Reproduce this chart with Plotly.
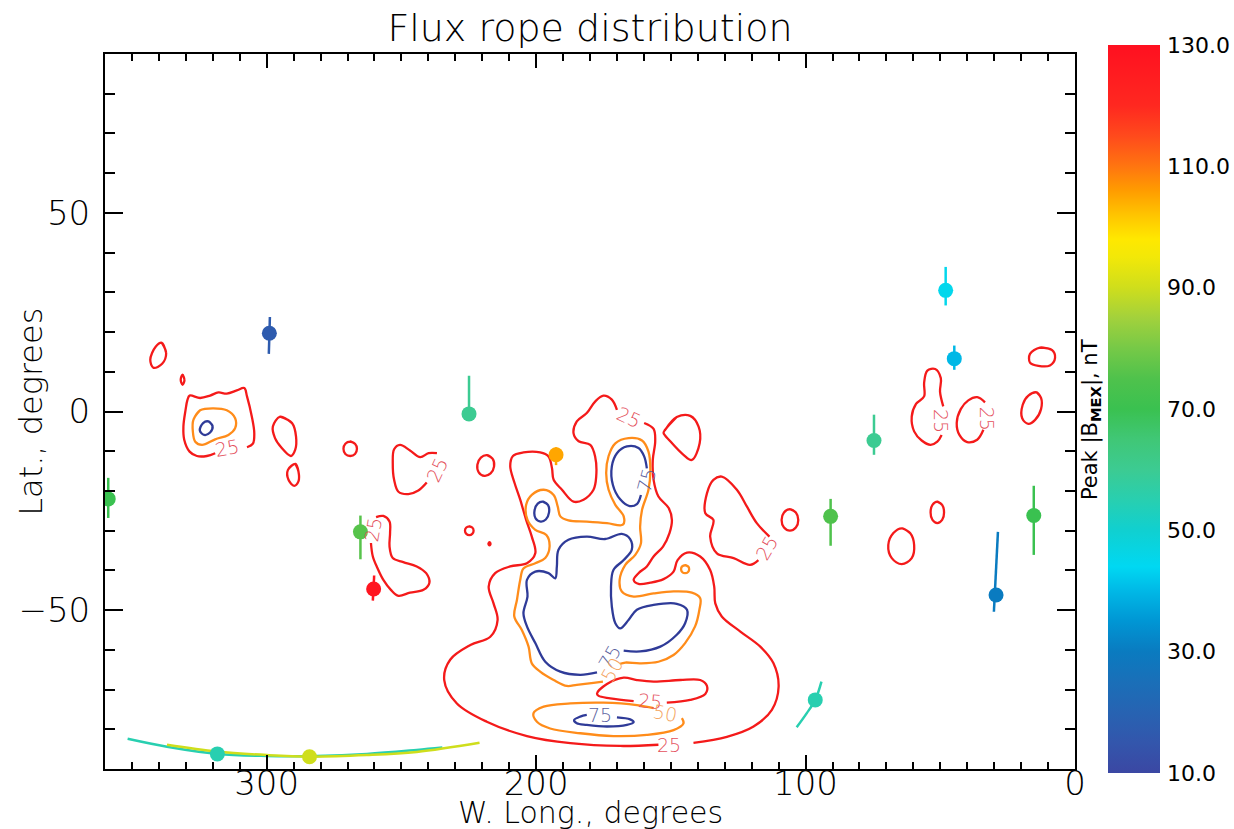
import plotly.graph_objects as go
from plotly.colors import sample_colorscale

# ---------------- flux rope events ----------------
fr_lon = [299.0, 224.9, 358.8, 265.2, 260.3, 192.6, 318.3, 284.1, 96.4, 90.7, 74.6, 48.0, 44.8, 29.3, 15.3]
fr_lat = [19.7, -0.6, -22.0, -30.3, -44.7, -10.9, -86.2, -86.9, -72.6, -26.4, -7.3, 30.5, 13.3, -46.2, -26.2]
fr_bpeak = [17, 60, 70, 76, 128, 105, 55, 90, 55, 75, 60, 45, 40, 30, 70]

# flux rope axis traces (one per event)
axis_lon = [
    [298.8, 299.2], [224.9, 224.9], [358.8, 358.8], [265.2, 265.2], [260.1, 260.6],
    [192.6, 192.6],
    [351.6, 337.0, 318.3, 299.9, 281.4, 262.8, 244.3, 234.8],
    [337.0, 318.5, 299.9, 284.1, 262.8, 244.3, 221.0],
    [103.3, 99.6, 96.4, 94.1],
    [90.7, 90.7], [74.6, 74.6], [48.0, 48.0], [44.8, 44.8], [28.6, 30.1], [15.3, 15.3],
]
axis_lat = [
    [23.8, 14.5], [9.0, -0.6], [-16.7, -26.8], [-26.2, -37.2], [-41.3, -47.6],
    [-9.0, -13.5],
    [-82.4, -84.4, -86.2, -86.7, -86.7, -86.2, -85.2, -84.6],
    [-83.9, -85.6, -86.5, -86.9, -86.5, -85.7, -83.4],
    [-79.5, -76.0, -72.6, -68.0],
    [-22.0, -33.8], [-0.8, -10.9], [36.4, 26.7], [16.6, 10.5], [-30.3, -50.4], [-18.7, -36.1],
]

# ---------------- crustal field contours (25 nT) ----------------
c25_lon = [
    [319.1, 322.2, 325.9, 328.6, 330.6, 330.9, 330.1, 329.4, 328.6, 324.7, 321.0, 317.9, 314.8, 311.1, 308.3, 307.3, 305.5, 304.6, 305.1, 307.3],
    [338.9, 337.3, 338.8, 342.0, 343.2, 341.2],
    [331.2, 330.5, 331.2, 331.9],
    [295.0, 290.6, 289.1, 289.4, 291.0, 294.4, 296.9, 297.7],
    [289.3, 288.2, 288.2, 289.8, 291.9, 292.1],
    [269.0, 267.2, 266.5, 267.2, 269.0, 270.8, 271.5, 270.8],
    [236.8, 239.9, 243.0, 246.8, 250.5, 252.7, 253.2, 252.7, 251.1, 247.4, 243.7, 240.6],
    [218.2, 216.1, 215.6, 216.9, 219.2, 221.3, 221.8, 220.5],
    [259.4, 256.7, 254.4, 254.2, 254.4, 253.2, 249.3, 244.3, 240.8, 239.6, 241.8, 246.8, 251.1, 253.9, 256.7, 258.9, 260.6, 261.3],
    [224.8, 223.7, 223.2, 223.7, 224.8, 225.9, 226.4, 225.9],
    [217.3, 216.9, 217.3, 217.7],
    [159.9, 156.4, 155.8, 156.7, 156.4, 154.6, 150.8, 149.6, 150.5, 152.9, 156.4, 158.9, 162.0, 163.8, 162.0, 157.6, 152.7, 149.0, 147.5, 144.0, 139.1, 135.4, 133.9, 133.5, 131.1, 124.2, 116.8, 111.9, 110.0, 112.5, 119.3, 129.2, 141.6],
    [154.6, 168.8, 187.3, 203.4, 218.3, 229.4, 234.1, 231.9, 224.4, 217.0, 214.3, 215.8, 217.6, 215.2, 209.6, 203.4, 200.3, 201.6, 203.7, 205.9, 208.0, 209.6, 208.6, 204.7, 198.5, 195.4, 194.1, 193.5, 190.4, 186.1, 182.4, 178.7, 177.7, 178.1, 179.9, 184.2, 186.1, 184.9, 181.2, 178.1, 175.0, 171.9, 170.0],
    [163.8, 172.5, 176.8, 177.4, 173.7, 167.5, 162.6, 156.4, 146.5, 139.1, 136.6, 137.2, 142.8, 151.5],
    [152.1, 147.8, 142.8, 139.7, 139.3, 142.2, 145.3, 150.2, 152.7],
    [117.5, 120.6, 126.7, 132.9, 135.4, 134.2, 137.2, 136.6, 134.2, 131.1, 125.5, 121.8, 118.1, 113.4],
    [105.8, 103.6, 102.7, 103.6, 105.8, 108.0, 108.9, 108.0],
    [64.3, 61.2, 59.7, 60.6, 64.3, 68.0, 69.3, 67.4],
    [51.1, 49.3, 48.6, 49.3, 51.1, 52.9, 53.6, 52.9],
    [48.9, 50.1, 49.8, 51.9, 54.8, 56.0, 56.0, 59.0, 60.6, 59.7, 56.9, 53.6, 51.1, 49.5],
    [33.4, 36.3, 39.6, 42.4, 43.9, 42.9, 40.0, 36.3, 34.0],
    [14.2, 12.6, 12.6, 14.8, 17.3, 19.6, 19.4, 17.3],
    [13.0, 8.6, 7.4, 9.3, 13.6, 16.7, 16.7],
]
c25_lat = [
    [-10.5, -11.2, -11.2, -10.1, -7.1, -3.8, 0.4, 2.9, 4.0, 3.4, 4.0, 4.8, 4.5, 5.3, 5.9, 3.8, -1.3, -5.4, -8.1, -9.0],
    [17.3, 14.7, 12.0, 11.0, 13.0, 16.3],
    [9.3, 8.0, 6.7, 8.0],
    [-1.3, -2.9, -6.3, -9.6, -11.2, -9.2, -6.7, -3.8],
    [-13.2, -15.1, -17.6, -18.7, -17.2, -14.7],
    [-7.6, -8.1, -9.4, -10.7, -11.2, -10.7, -9.4, -8.1],
    [-10.5, -10.5, -11.5, -9.8, -8.4, -9.5, -13.0, -17.2, -20.2, -20.8, -19.9, -17.9],
    [-11.0, -11.9, -13.8, -15.6, -16.2, -15.3, -13.4, -11.6],
    [-26.6, -26.3, -27.7, -30.6, -34.0, -36.9, -37.9, -39.0, -40.7, -43.1, -44.9, -45.6, -46.4, -44.9, -42.4, -39.4, -36.5, -33.1],
    [-28.9, -29.2, -30.0, -30.8, -31.1, -30.8, -30.0, -29.2],
    [-32.9, -33.3, -33.7, -33.3],
    [-2.9, -4.4, -7.5, -12.2, -17.2, -21.4, -24.3, -27.3, -30.6, -34.0, -36.5, -39.0, -40.7, -42.4, -43.4, -43.1, -42.2, -40.3, -37.4, -35.5, -36.5, -39.9, -44.1, -48.3, -51.6, -55.4, -59.2, -63.4, -69.3, -75.1, -79.3, -81.9, -83.4],
    [-83.9, -84.2, -83.5, -81.7, -78.1, -73.5, -67.6, -62.5, -58.8, -56.7, -52.5, -48.3, -44.1, -40.7, -39.0, -38.2, -35.7, -31.5, -27.3, -22.2, -18.0, -13.8, -11.2, -10.3, -10.3, -11.3, -14.3, -17.2, -19.7, -22.7, -22.2, -19.7, -16.4, -11.3, -8.4, -7.5, -5.5, -2.5, -0.4, 2.5, 4.0, 3.0, 0.4],
    [-72.9, -72.2, -71.6, -71.0, -68.6, -67.0, -67.6, -68.0, -67.6, -67.6, -69.1, -71.1, -72.6, -73.3],
    [-4.6, -1.4, -1.1, -3.8, -8.0, -12.2, -10.9, -7.5, -5.4],
    [-37.4, -38.6, -36.9, -35.7, -31.5, -27.3, -25.6, -20.6, -17.2, -16.4, -19.7, -23.9, -28.1, -31.5],
    [-24.6, -25.4, -27.3, -29.2, -30.0, -29.2, -27.3, -25.4],
    [-29.4, -30.6, -33.6, -36.9, -38.4, -36.9, -33.6, -30.6],
    [-22.7, -23.5, -25.4, -27.3, -28.1, -27.3, -25.4, -23.5],
    [1.3, 5.0, 8.4, 10.7, 10.3, 7.2, 3.8, 1.9, -1.3, -5.0, -7.3, -8.4, -7.6, -5.9],
    [2.3, 3.6, 2.8, 0.6, -2.9, -5.9, -7.7, -7.1, -4.6],
    [4.8, 3.4, 0.6, -2.1, -3.1, -1.7, 1.7, 4.0],
    [16.1, 15.5, 13.5, 11.6, 11.5, 12.3, 14.5],
]
c25_closed = [False, True, True, True, True, True, False, True, False, True, True,
              False, False, False, True, False, True, True, True, False, False, True, True]

# ---------------- 50 nT ----------------
c50_lon = [
    [327.2, 324.7, 319.8, 314.8, 311.7, 311.7, 314.2, 319.1, 324.0, 326.5, 327.4],
    [175.2, 178.7, 184.9, 188.6, 193.5, 198.5, 201.6, 202.8, 205.3, 208.1, 207.1, 205.9, 204.7, 200.3, 196.6, 195.0, 196.2, 200.3, 203.2, 203.7, 201.6, 197.2, 193.5, 192.0, 191.0, 188.0, 181.2, 173.7, 167.8, 167.5, 170.6, 173.1, 174.0, 173.1, 170.6, 165.7, 160.7, 158.3, 157.6, 158.3, 160.7, 161.4, 161.1, 163.2, 166.9, 169.0, 168.2, 163.8, 156.4, 149.0, 142.2, 139.1, 139.4, 141.0, 144.7, 149.0, 154.6, 161.4, 166.9, 168.8],
    [144.7, 143.6, 143.2, 143.6, 144.7, 145.8, 146.2, 145.8],
    [156.4, 162.6, 175.0, 187.3, 197.2, 201.0, 199.7, 194.8, 183.6, 171.3, 158.9, 149.0, 145.3, 145.9],
]
c50_lat = [
    [-2.1, 0.3, 0.8, 0.3, -1.7, -4.2, -5.9, -7.0, -8.4, -7.6, -5.0],
    [-68.0, -68.3, -68.8, -69.1, -67.6, -65.5, -63.4, -59.2, -55.0, -51.6, -47.4, -42.4, -39.5, -38.2, -36.9, -34.0, -31.1, -29.8, -27.3, -23.5, -21.0, -19.7, -21.0, -23.9, -26.4, -27.4, -27.7, -28.1, -28.5, -26.4, -23.5, -19.7, -15.5, -11.2, -8.0, -6.7, -7.3, -10.1, -14.7, -19.7, -24.8, -29.0, -33.2, -36.1, -38.6, -42.4, -45.3, -46.6, -45.8, -45.3, -45.6, -47.0, -49.9, -54.1, -58.3, -61.3, -63.0, -63.4, -63.2, -63.5],
    [-38.7, -39.0, -39.7, -40.4, -40.7, -40.4, -39.7, -39.0],
    [-74.7, -73.9, -73.3, -73.5, -74.3, -76.0, -78.1, -79.8, -81.0, -81.7, -81.4, -80.2, -78.5, -77.2],
]
c50_closed = [True, False, True, False]

# ---------------- 75 nT ----------------
c75_lon = [
    [321.6, 320.1, 321.0, 323.2, 324.8, 323.6],
    [197.5, 195.6, 195.2, 196.4, 198.3, 200.2, 200.6, 199.4],
    [161.1, 162.6, 165.3, 168.8, 171.5, 171.9, 170.0, 166.3, 162.0, 159.9, 158.9],
    [177.4, 183.6, 191.0, 196.6, 200.3, 203.4, 204.7, 203.2, 203.4, 200.3, 195.4, 192.9, 192.3, 191.7, 188.0, 181.2, 174.4, 168.2, 165.1, 164.5, 167.5, 171.3, 172.2, 171.9, 170.6, 168.8, 165.7, 162.6, 156.4, 147.8, 144.0, 144.7, 147.8, 153.9, 161.4, 167.5],
    [170.0, 165.1, 163.8, 166.3, 173.7, 181.2, 184.9, 185.9, 183.6, 181.2],
]
c75_lat = [
    [-2.5, -3.6, -5.3, -5.9, -4.8, -2.9],
    [-22.7, -23.5, -25.4, -27.2, -27.7, -26.9, -25.0, -23.2],
    [-21.0, -23.3, -23.8, -22.1, -18.5, -13.8, -10.5, -8.8, -9.2, -11.3, -14.3],
    [-65.7, -66.3, -65.5, -63.0, -58.3, -54.1, -50.8, -46.6, -42.4, -40.3, -40.7, -42.0, -39.0, -34.8, -32.3, -31.5, -32.1, -30.8, -32.1, -34.8, -37.4, -39.9, -44.1, -49.1, -53.3, -54.6, -52.5, -49.9, -48.7, -48.4, -49.9, -53.3, -56.2, -59.2, -60.4, -60.2],
    [-77.0, -77.5, -78.2, -78.9, -79.3, -78.9, -78.5, -77.7, -76.8, -76.4],
]
c75_closed = [True, True, False, False, False]

# contour labels
lbl_text = ["25", "25", "25", "25", "75", "75", "50", "25", "25", "50", "75", "25", "25", "25"]
lbl_level = [25, 25, 25, 25, 75, 75, 50, 25, 25, 50, 75, 25, 25, 25]
lbl_lon = [314.8, 236.8, 260.6, 165.7, 159.1, 172.8, 171.9, 114.4, 157.9, 152.1, 176.2, 150.5, 49.5, 32.8]
lbl_lat = [-9.2, -14.7, -29.8, -1.3, -17.2, -61.7, -65.1, -34.4, -73.0, -76.0, -76.4, -84.0, -2.3, -1.7]
lbl_angle = [-10, -65, -80, 25, -75, -60, -60, -60, 5, 10, 0, 0, 90, 90]

cbar_ticks = [10, 30, 50, 70, 90, 110, 130]

# colour table
ct_vals = [10, 15, 20, 25, 30, 35, 40, 44, 50, 55, 60, 65, 70, 75, 80, 85, 90, 95, 98, 102, 106, 110, 115, 120, 130]
ct_cols = ["#3b47a3", "#3356ac", "#2763b2", "#1a6fb8", "#0a7bc0", "#0096d4", "#00b8e6", "#00d8f2",
           "#10d0d0", "#28cfb0", "#3ccb92", "#40c776", "#3ac150", "#4fc24c", "#76c947", "#a2d13c",
           "#cfde1c", "#f2e808", "#ffe800", "#ffc400", "#ff9c00", "#ff7510", "#ff4a1c", "#ff2820", "#ff1020"]
VMIN, VMAX = 10, 130
colorscale = [[(v - VMIN) / (VMAX - VMIN), c] for v, c in zip(ct_vals, ct_cols)]

level_color = {25: "#f41a1a", 50: "#ff8c1a", 75: "#2f3b98"}
label_color = {25: "#e4505c", 50: "#f4a460", 75: "#5b5f9e"}

FONT = "DejaVu Sans"
FW = 200

fig = go.Figure()


def add_level(lons, lats, closed, color):
    xs, ys = [], []
    for lo, la, cl in zip(lons, lats, closed):
        lo = list(lo)
        la = list(la)
        if cl:
            lo = lo + lo[:2]
            la = la + la[:2]
        xs += lo + [None]
        ys += la + [None]
    fig.add_trace(go.Scatter(x=xs, y=ys, mode="lines",
                             line=dict(color=color, width=2.3, shape="spline", smoothing=1.0),
                             hoverinfo="skip", showlegend=False))


add_level(c25_lon, c25_lat, c25_closed, level_color[25])
add_level(c50_lon, c50_lat, c50_closed, level_color[50])
add_level(c75_lon, c75_lat, c75_closed, level_color[75])

# flux rope axes coloured by peak field
seg_cols = sample_colorscale(colorscale, [(b - VMIN) / (VMAX - VMIN) for b in fr_bpeak])
for lo, la, col in zip(axis_lon, axis_lat, seg_cols):
    fig.add_trace(go.Scatter(x=lo, y=la, mode="lines",
                             line=dict(color=col, width=2.5, shape="spline"),
                             hoverinfo="skip", showlegend=False))

fig.add_trace(go.Scatter(
    x=fr_lon, y=fr_lat, mode="markers", showlegend=False,
    marker=dict(size=15, color=fr_bpeak, colorscale=colorscale, cmin=VMIN, cmax=VMAX,
                line=dict(width=0),
                colorbar=dict(x=1.034, xanchor="left", y=0.5035, yanchor="middle",
                              len=728, lenmode="pixels", thickness=52, thicknessmode="pixels",
                              outlinewidth=0, xpad=0, ypad=0,
                              tickvals=cbar_ticks, ticktext=[f"{t:.1f}" for t in cbar_ticks],
                              ticks="outside", ticklen=3, tickcolor="rgba(0,0,0,0)",
                              tickfont=dict(family="DejaVu Sans", size=22, color="black"))),
))

for t, lv, lo, la, ang in zip(lbl_text, lbl_level, lbl_lon, lbl_lat, lbl_angle):
    fig.add_annotation(x=lo, y=la, text=t, showarrow=False, textangle=ang,
                       xanchor="center", yanchor="middle",
                       font=dict(family=FONT, weight=FW, size=19, color=label_color[lv]))

fig.add_annotation(xref="paper", yref="paper", x=-0.077, y=0.5, xanchor="center", yanchor="middle",
                   text="Lat., degrees", showarrow=False, textangle=-90,
                   font=dict(family=FONT, weight=FW, size=32, color="black"))
fig.add_annotation(xref="paper", yref="paper", x=0.5, y=(769 - 832) / 715, xanchor="center", yanchor="bottom",
                   text="W. Long., degrees", showarrow=False,
                   font=dict(family=FONT, weight=FW, size=30, color="black"))
fig.add_annotation(xref="paper", yref="paper", x=1.0165, y=0.488, xanchor="center", yanchor="middle",
                   text="Peak |B<sub><b>MEX</b></sub>|, nT", showarrow=False, textangle=-90,
                   font=dict(family=FONT, size=21, color="black"))

fig.update_layout(
    width=1234, height=829,
    margin=dict(l=105, r=159, t=54, b=60, autoexpand=False),
    paper_bgcolor="white", plot_bgcolor="white",
    title=dict(text="Flux rope distribution", x=0.5, xref="paper", xanchor="center",
               y=1 - 28 / 829, yref="container", yanchor="middle",
               font=dict(family=FONT, weight=FW, size=38, color="black")),
    xaxis=dict(range=[360, 0], tickvals=[300, 200, 100, 0], ticktext=["300", "200", "100", "0"],
               ticks="inside", ticklen=14, tickwidth=2, tickcolor="black",
               minor=dict(dtick=10, tick0=0, ticks="inside", ticklen=7, tickwidth=1.5, tickcolor="black"),
               showline=True, linewidth=2, linecolor="black", mirror="ticks",
               showgrid=False, zeroline=False, ticklabelstandoff=-17,
               tickfont=dict(family=FONT, weight=FW, size=34, color="black")),
    yaxis=dict(range=[-90, 90], tickvals=[-50, 0, 50], ticktext=["\u221250", "0", "50"],
               ticks="inside", ticklen=18, tickwidth=2, tickcolor="black",
               minor=dict(dtick=10, tick0=0, ticks="inside", ticklen=10, tickwidth=1.5, tickcolor="black"),
               showline=True, linewidth=2, linecolor="black", mirror="ticks",
               showgrid=False, zeroline=False, ticklabelstandoff=6,
               tickfont=dict(family=FONT, weight=FW, size=34, color="black")),
)

fig.write_html("out.html")
